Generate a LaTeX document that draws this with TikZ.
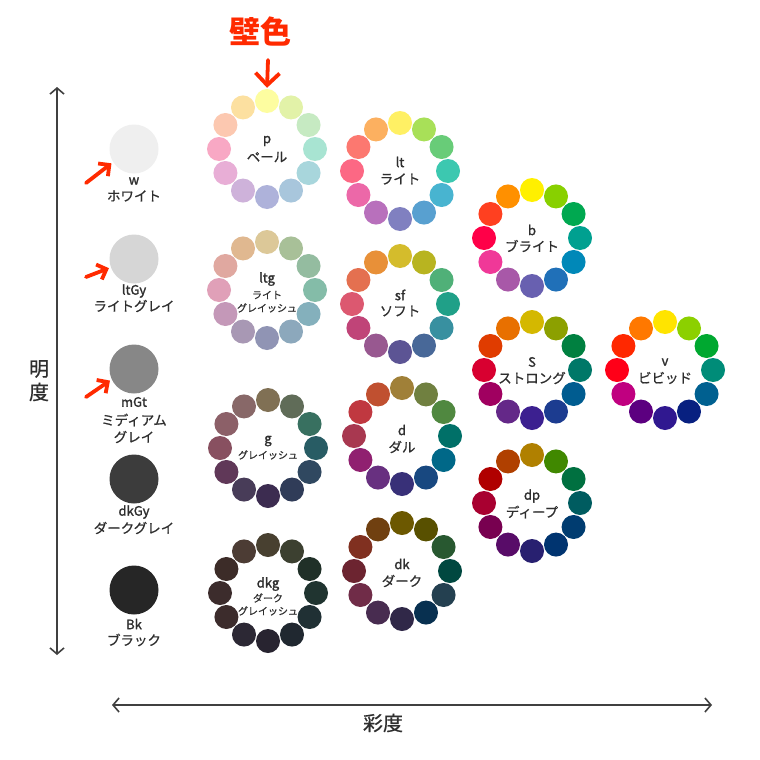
\documentclass[tikz,border=0pt]{standalone}
\usepackage{fontspec}
\setmainfont{Noto Sans CJK JP}
\newfontfamily\latfont{Noto Sans CJK JP}[FakeBold=1.6]
\newfontfamily\jpfont{Noto Sans CJK JP}[FakeBold=0.7]
\usetikzlibrary{arrows.meta}
\definecolor{txt}{HTML}{2E2E2E}
\definecolor{axc}{HTML}{404040}
\definecolor{redc}{HTML}{FF2A00}
\newcommand\drawwheel[4]{%
  \foreach \c [count=\i from 0] in {#4}{%
    \edef\tmpdef{\noexpand\definecolor{wc}{HTML}{\c}}\tmpdef
    \node[dot,fill=wc] (#1-\i) at ({#2+48*cos(90-30*\i)},{#3-48*sin(90-30*\i)}) {};
  }}
\begin{document}
\begin{tikzpicture}[x=1pt,y=-1pt,
  dot/.style={circle,minimum size=24pt,inner sep=0pt,draw=none},
  gdot/.style={circle,minimum size=49pt,inner sep=0pt,draw=none},
  lat/.style={font=\latfont\fontsize{13}{13}\selectfont,text=txt,inner sep=0pt},
  jp/.style={font=\jpfont\fontsize{13.5}{13.5}\selectfont,text=txt,inner sep=0pt},
  jps/.style={font=\jpfont\fontsize{10}{10}\selectfont,text=txt,inner sep=0pt},
  axlab/.style={font=\jpfont\fontsize{20}{20}\selectfont,text=txt,inner sep=0pt},
  axisline/.style={draw=axc,line width=1.6pt},
  redarrow/.style={draw=redc,line width=3.8pt,line cap=round,line join=round}
]
\path[fill=white,use as bounding box] (0,0) rectangle (760,760);

% axes
\coordinate (vtop) at (57,87);
\coordinate (vbot) at (57,655);
\coordinate (hl) at (112,705);
\coordinate (hr) at (712,705);
\draw[axisline,{Straight Barb[length=6pt,width=14pt]}-{Straight Barb[length=6pt,width=14pt]}] (vtop) -- (vbot);
\draw[axisline,{Straight Barb[length=6pt,width=14pt]}-{Straight Barb[length=6pt,width=14pt]}] (hl) -- (hr);
\node[axlab] (mei) at (39,369) {明};
\node[axlab] (do1) at (39,392) {度};
\node[axlab] (sai) at (383,723) {彩度};

% grey circles
\definecolor{gw}{HTML}{EFEFEF}
\definecolor{glt}{HTML}{D6D6D6}
\definecolor{gm}{HTML}{878787}
\definecolor{gdk}{HTML}{3C3C3C}
\definecolor{gbk}{HTML}{262626}
\node[gdot,fill=gw] (w) at (134,149) {};
\node[gdot,fill=glt] (ltgy) at (134,259) {};
\node[gdot,fill=gm] (mgt) at (134,369) {};
\node[gdot,fill=gdk] (dkgy) at (134,479) {};
\node[gdot,fill=gbk] (bk) at (134,590) {};
\node[lat] (w-l) at (134,181) {w};
\node[jp] (w-j) at (134,196) {ホワイト};
\node[lat] (ltgy-l) at (134,291) {ltGy};
\node[jp] (ltgy-j) at (134,306) {ライトグレイ};
\node[lat] (mgt-l) at (134,402) {mGt};
\node[jp] (mgt-j) at (134,420) {ミディアム};
\node[jp] (mgt-j2) at (134,437) {グレイ};
\node[lat] (dkgy-l) at (134,512) {dkGy};
\node[jp] (dkgy-j) at (134,528) {ダークグレイ};
\node[lat] (bk-l) at (134,624) {Bk};
\node[jp] (bk-j) at (134,640) {ブラック};

% wheels
\drawwheel{p}{267}{149}{FDFDA0,E2F2A8,C6EAC2,A8E4D2,A8D6DC,A8C6DC,AEB2DA,CEB2DA,E8AED6,F8A8C4,FCC8B0,FCE0A0}
\drawwheel{lt}{400}{171}{FFF064,A8E058,68CC78,3CC8B0,48B4D0,58A0D0,8080C0,B870BC,EC68A8,FC6884,FC7870,FCB060}
\drawwheel{b}{532}{238}{FFF000,88D000,00A850,00A090,0088B8,2070B8,6860B0,A858A8,F03898,FF0048,FF4020,FF9000}
\drawwheel{ltg}{267}{290}{DCC898,A8C098,94BCA0,84BCA8,84B0BC,8CA8BC,9094B4,A898B4,C498B8,E0A0B8,E0A8A0,E0B890}
\drawwheel{sf}{400}{304}{D4BC2C,B8B420,50B078,20A088,3890A0,486898,5C5494,985890,C04478,DC5870,E47050,E89038}
\drawwheel{s}{532}{370}{D4B800,8CA000,008040,007868,005C90,1C3C90,3C2090,642888,A00060,D80030,E03C00,E87000}
\drawwheel{v}{665}{370}{FFE400,8CD000,00A830,008C78,006090,082080,301890,5C0080,C00080,FF0018,FF2800,FF7800}
\drawwheel{g}{268}{448}{807054,606C58,387060,285C64,304860,303C58,3C2C50,483C58,603858,885060,8C6068,886868}
\drawwheel{d}{402}{436}{A08038,708040,508840,007068,006888,184880,383078,683080,902070,A83850,C03840,C05030}
\drawwheel{dp}{532}{503}{B08000,408800,007040,005C60,003C70,003470,282070,580C68,780050,A80030,B00000,B04000}
\drawwheel{dkg}{268}{593}{484030,3C4030,203028,203430,203034,202830,282430,2C2834,3C2C2C,3C2C2C,3C2C28,4C3C34}
\drawwheel{dk}{402}{571}{6C5800,585000,285830,004840,244050,083050,302848,482C50,702C48,6C2430,803020,704010}

% wheel labels
\node[lat] (p-l) at (267,141) {p};
\node[jp] (p-j) at (267,157) {ペール};
\node[lat] (lt-l) at (400,162) {lt};
\node[jp] (lt-j) at (400,179) {ライト};
\node[lat] (b-l) at (532,230) {b};
\node[jp] (b-j) at (532,246) {ブライト};
\node[lat] (ltg-l) at (267,279) {ltg};
\node[jps] (ltg-j) at (267,295) {ライト};
\node[jps] (ltg-j2) at (267,308) {グレイッシュ};
\node[lat] (sf-l) at (400,295) {sf};
\node[jp] (sf-j) at (400,311) {ソフト};
\node[lat] (s-l) at (532,362) {S};
\node[jp] (s-j) at (532,378) {ストロング};
\node[lat] (v-l) at (665,362) {v};
\node[jp] (v-j) at (665,378) {ビビッド};
\node[lat] (g-l) at (268,441) {g};
\node[jps] (g-j) at (268,455) {グレイッシュ};
\node[lat] (d-l) at (402,430) {d};
\node[jp] (d-j) at (402,447) {ダル};
\node[lat] (dp-l) at (532,496) {dp};
\node[jp] (dp-j) at (532,512) {ディープ};
\node[lat] (dkg-l) at (268,584) {dkg};
\node[jps] (dkg-j) at (268,598) {ダーク};
\node[jps] (dkg-j2) at (268,611) {グレイッシュ};
\node[lat] (dk-l) at (402,564) {dk};
\node[jp] (dk-j) at (402,581) {ダーク};

% red annotations
\node[font=\fontsize{31}{31}\selectfont\bfseries,text=redc,inner sep=0pt] (kabe) at (260,32) {壁色};
\draw[redarrow,-{Straight Barb[length=12pt,width=24pt]},shorten >=1pt] (268,60) -- (p-0.north);
\coordinate (aw) at (86,183);
\coordinate (alt) at (86,277);
\coordinate (am) at (86,397);
\draw[redarrow,-{Straight Barb[length=8pt,width=16pt]},shorten >=2pt] (aw) -- (w.212);
\draw[redarrow,-{Straight Barb[length=8pt,width=16pt]},shorten >=2pt] (alt) -- (ltgy.200);
\draw[redarrow,-{Straight Barb[length=8pt,width=16pt]},shorten >=2pt] (am) -- (mgt.205);
\end{tikzpicture}
\end{document}
